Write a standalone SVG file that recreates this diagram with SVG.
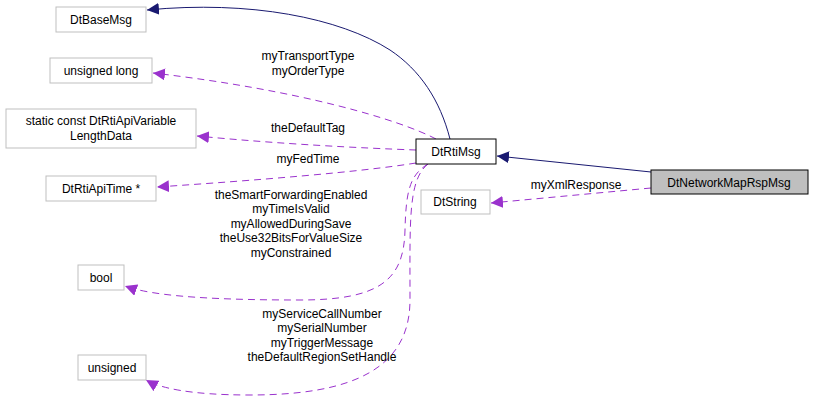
<svg xmlns="http://www.w3.org/2000/svg" width="816" height="409" viewBox="0 0 816 409">
<style>
text{font-family:"Liberation Sans",Arial,sans-serif;font-size:12px;fill:#000}
.g{fill:#fff;stroke:#bfbfbf}
.b{fill:#fff;stroke:#000}
.s{fill:none;stroke:#191970}
.d{fill:none;stroke:#9a32cd;stroke-dasharray:7,5}
</style>
<defs>
<marker id="an" viewBox="0 0 10 10" refX="10" refY="5" markerWidth="12" markerHeight="12" markerUnits="userSpaceOnUse" orient="auto"><path d="M0,0L10,5L0,10z" fill="#191970"/></marker>
<marker id="ap" viewBox="0 0 10 10" refX="10" refY="5" markerWidth="12" markerHeight="12" markerUnits="userSpaceOnUse" orient="auto"><path d="M0,0L10,5L0,10z" fill="#9a32cd"/></marker>
</defs>
<g id="connectors">
<path class="s" d="M450,139C440,100 420,70 390,50C340,18 250,0 147,10" marker-end="url(#an)"/>
<path class="s" d="M651,172L497,156" marker-end="url(#an)"/>
<path class="d" d="M651,188L491,203" marker-end="url(#ap)"/>
<path class="d" d="M436,139C400,120 300,90 153,73" marker-end="url(#ap)"/>
<path class="d" d="M416,150C360,148 280,144 197,136" marker-end="url(#ap)"/>
<path class="d" d="M416,163C360,172 260,180 157,187" marker-end="url(#ap)"/>
<path class="d" d="M428,164C410,175 406,190 405,230C404,280 380,300 300,300C200,300 150,295 125,286" marker-end="url(#ap)"/>
<path class="d" d="M428,164C408,180 410,220 410,300C410,370 350,395 250,395C190,395 160,388 146,380" marker-end="url(#ap)"/>
</g>
<g id="DtBaseMsg"><rect class="g" x="56" y="7" width="90" height="25"/><text x="101" y="24" text-anchor="middle">DtBaseMsg</text></g>
<g id="unsignedlong"><rect class="g" x="50" y="58" width="102" height="25"/><text x="101" y="75" text-anchor="middle">unsigned long</text></g>
<g id="staticconst"><rect class="g" x="6" y="109" width="190" height="39"/><text x="101" y="125" text-anchor="middle">static const DtRtiApiVariable</text><text x="101" y="140" text-anchor="middle">LengthData</text></g>
<g id="DtRtiApiTime"><rect class="g" x="46" y="176" width="110" height="25"/><text x="101" y="193" text-anchor="middle">DtRtiApiTime *</text></g>
<g id="bool"><rect class="g" x="78" y="265" width="46" height="25"/><text x="101" y="282" text-anchor="middle">bool</text></g>
<g id="unsigned"><rect class="g" x="78" y="355" width="68" height="25"/><text x="112" y="372" text-anchor="middle">unsigned</text></g>
<g id="DtRtiMsg"><rect class="b" x="416" y="139" width="80" height="25"/><text x="456" y="156" text-anchor="middle">DtRtiMsg</text></g>
<g id="DtString"><rect class="g" x="421" y="190" width="69" height="24"/><text x="455" y="206" text-anchor="middle">DtString</text></g>
<g id="DtNetworkMapRspMsg"><rect x="651" y="170" width="157" height="24" fill="#bfbfbf" stroke="#000"/><text x="729" y="187" text-anchor="middle">DtNetworkMapRspMsg</text></g>
<g id="labels">
<text x="308" y="60" text-anchor="middle">myTransportType</text>
<text x="308" y="75" text-anchor="middle">myOrderType</text>
<text x="308" y="132" text-anchor="middle">theDefaultTag</text>
<text x="308" y="163" text-anchor="middle">myFedTime</text>
<text x="291" y="199" text-anchor="middle">theSmartForwardingEnabled</text>
<text x="291" y="213" text-anchor="middle">myTimeIsValid</text>
<text x="291" y="228" text-anchor="middle">myAllowedDuringSave</text>
<text x="291" y="242" text-anchor="middle">theUse32BitsForValueSize</text>
<text x="291" y="257" text-anchor="middle">myConstrained</text>
<text x="322" y="318" text-anchor="middle">myServiceCallNumber</text>
<text x="322" y="332" text-anchor="middle">mySerialNumber</text>
<text x="322" y="347" text-anchor="middle">myTriggerMessage</text>
<text x="322" y="361" text-anchor="middle">theDefaultRegionSetHandle</text>
<text x="576" y="189" text-anchor="middle">myXmlResponse</text>
</g>
</svg>
